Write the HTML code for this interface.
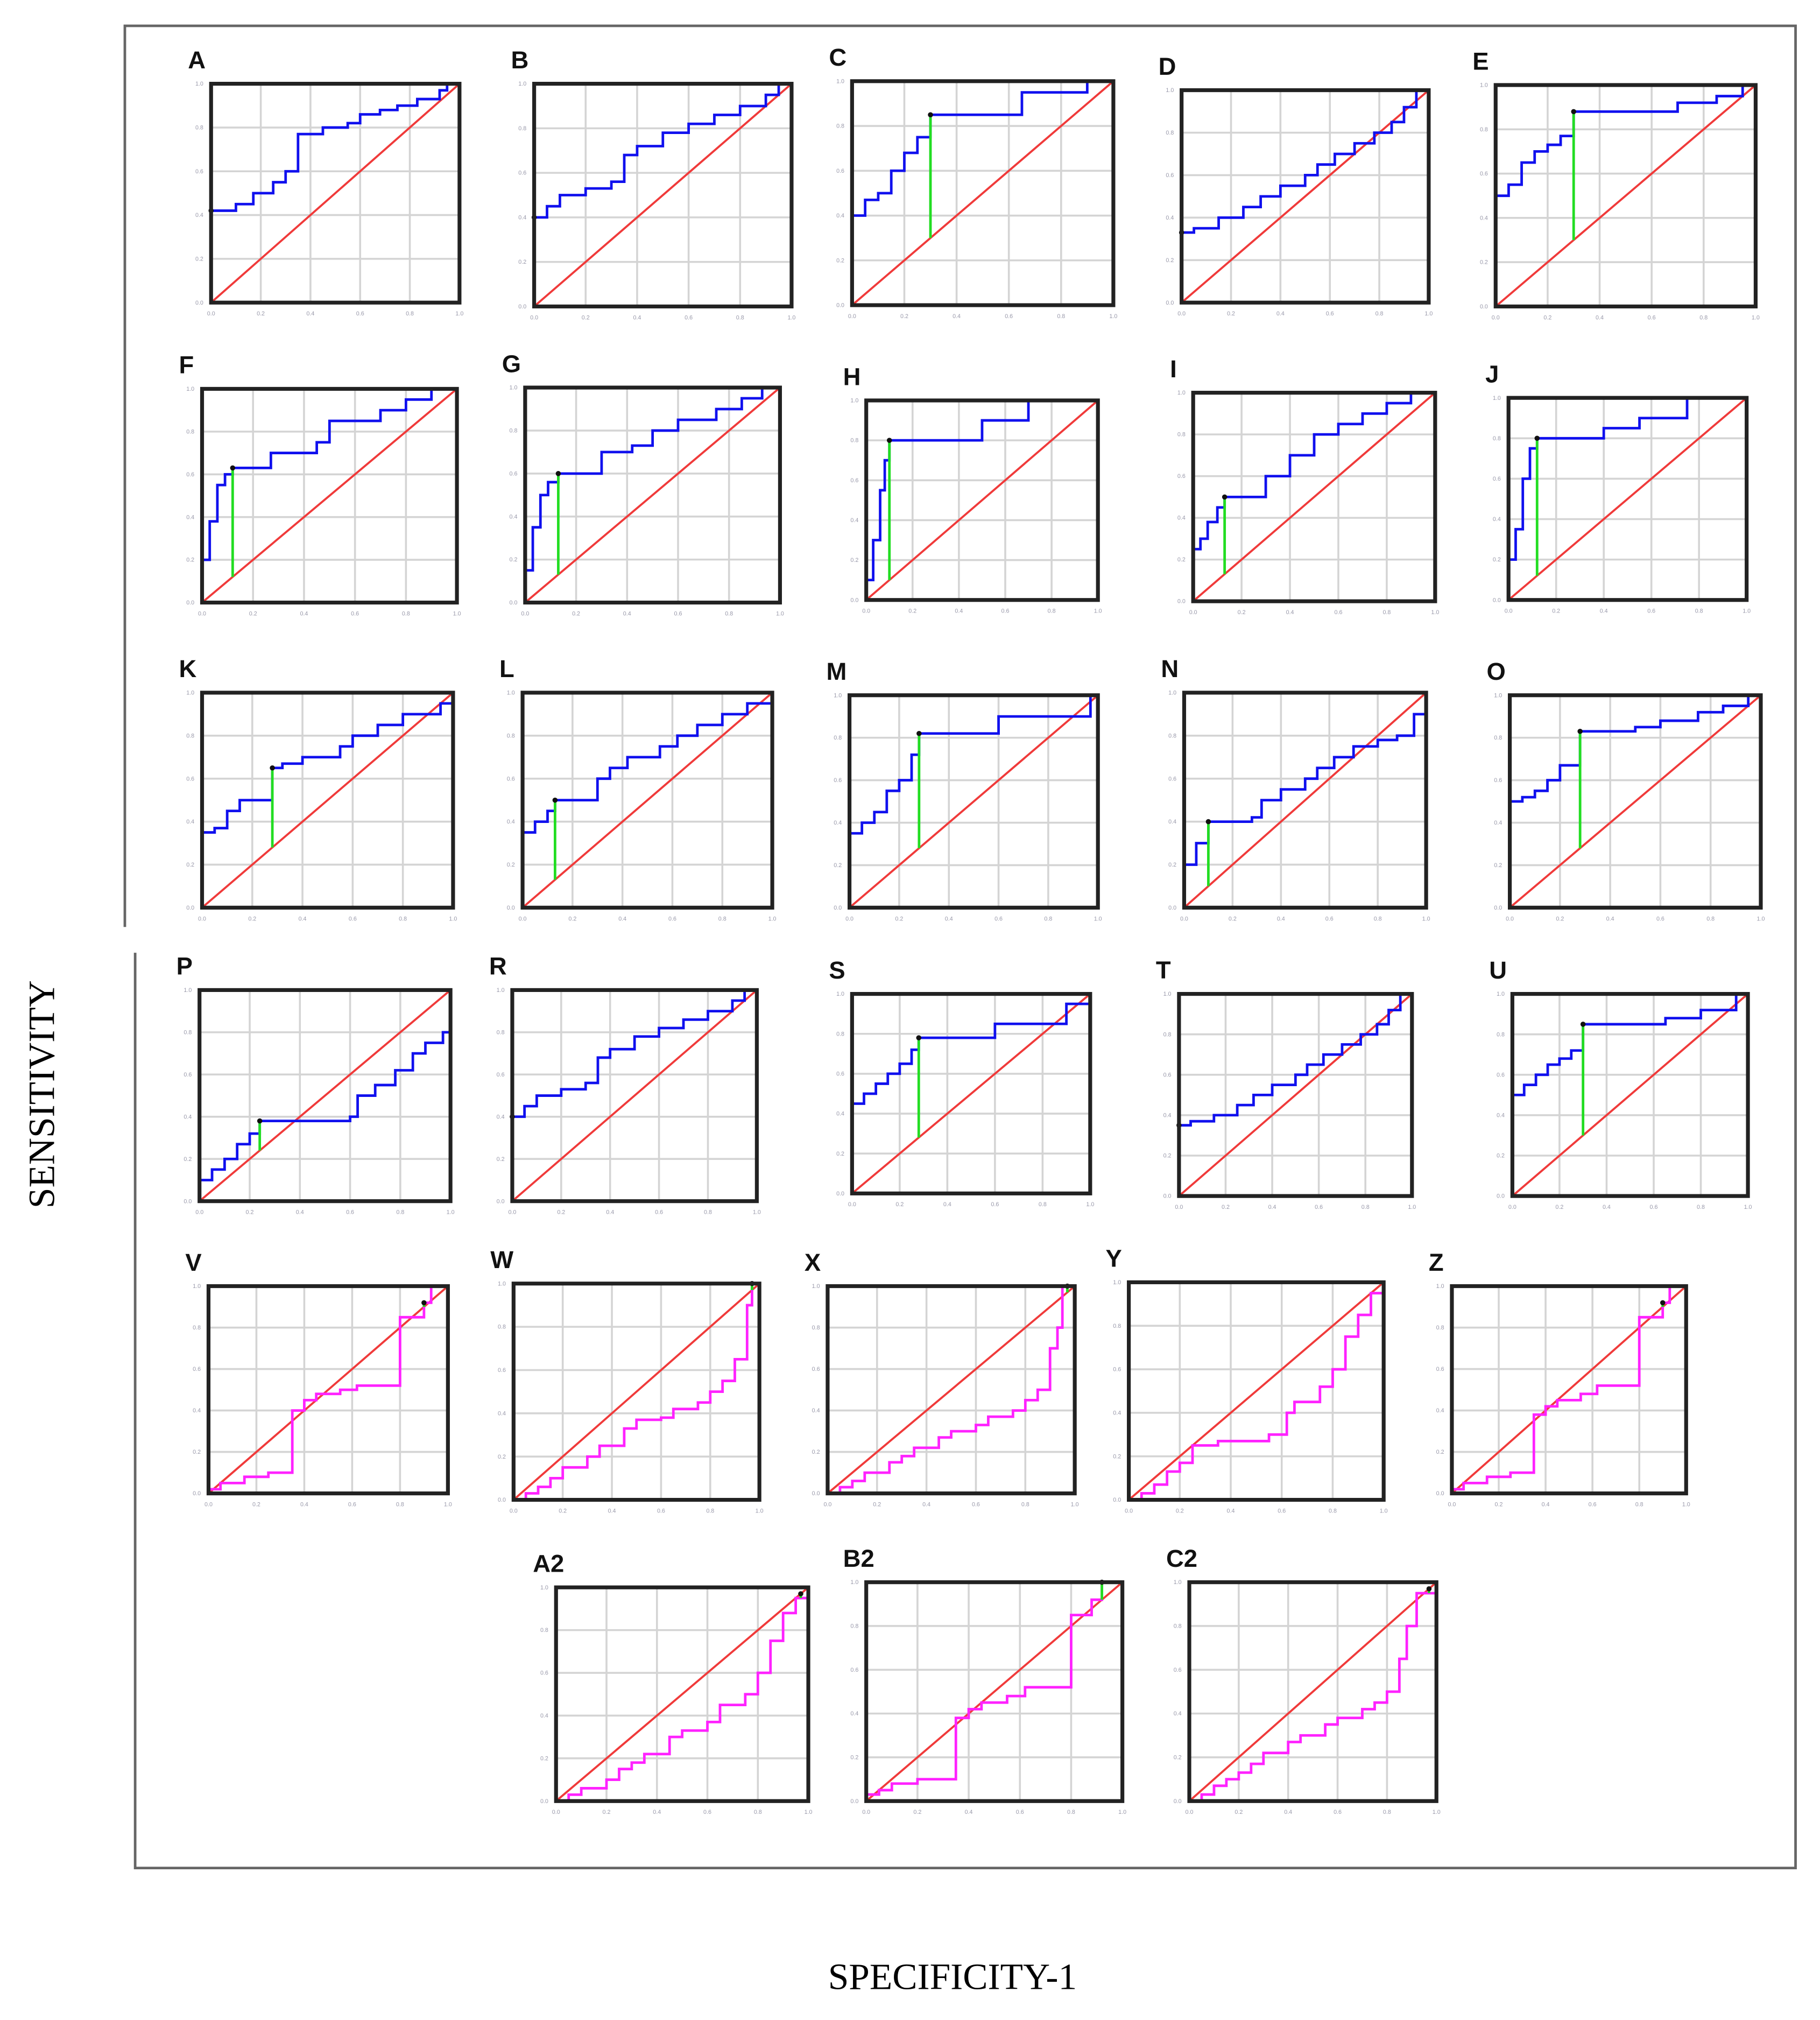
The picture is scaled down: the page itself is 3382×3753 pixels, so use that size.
<!DOCTYPE html>
<html><head><meta charset="utf-8"><style>
html,body{margin:0;padding:0;background:#fff}
svg{display:block}
</style></head><body>
<svg id="fig" width="3382" height="3753" viewBox="0 0 1414 1569" xmlns="http://www.w3.org/2000/svg">
<rect width="1414" height="1569" fill="#fff"/>
<g stroke="#666" stroke-width="2" fill="none">
<polyline points="97,720 97,20 1395,20 1395,1451 105,1451 105,740"/>
</g>
<text transform="translate(42,850) rotate(-90)" text-anchor="middle" font-family="Liberation Serif, serif" font-size="29" fill="#000">SENSITIVITY</text>
<text x="740" y="1545" text-anchor="middle" font-family="Liberation Serif, serif" font-size="29" fill="#000">SPECIFICITY-1</text>
<g id="panels"></g>
</svg>
<script>
// ---- data (FPR / TPR step points, cutoff FPR) ----
const panelLabels=["A","B","C","D","E","F","G","H","I","J","K","L","M","N","O","P","R","S","T","U","V","W","X","Y","Z","A2","B2","C2"];
const fpr_A=[0,0,0.1,0.17,0.25,0.3,0.35,0.45,0.55,0.6,0.68,0.75,0.83,0.92,0.95,1];
const tpr_A=[0,0.42,0.45,0.5,0.55,0.6,0.77,0.8,0.82,0.86,0.88,0.9,0.93,0.97,1,1];
const fpr_B=[0,0,0.05,0.1,0.2,0.3,0.35,0.4,0.5,0.6,0.7,0.8,0.9,0.95,1];
const tpr_B=[0,0.4,0.45,0.5,0.53,0.56,0.68,0.72,0.78,0.82,0.86,0.9,0.95,1,1];
const fpr_C=[0,0,0.05,0.1,0.15,0.2,0.25,0.3,0.65,0.9,1];
const tpr_C=[0,0.4,0.47,0.5,0.6,0.68,0.75,0.85,0.95,1,1];
const fpr_D=[0,0,0.05,0.15,0.25,0.32,0.4,0.5,0.55,0.62,0.7,0.78,0.85,0.9,0.95,1];
const tpr_D=[0,0.33,0.35,0.4,0.45,0.5,0.55,0.6,0.65,0.7,0.75,0.8,0.85,0.92,1,1];
const fpr_E=[0,0,0.05,0.1,0.15,0.2,0.25,0.3,0.7,0.85,0.95,1];
const tpr_E=[0,0.5,0.55,0.65,0.7,0.73,0.77,0.88,0.92,0.95,1,1];
const fpr_F=[0,0,0.03,0.06,0.09,0.12,0.27,0.45,0.5,0.7,0.8,0.9,1];
const tpr_F=[0,0.2,0.38,0.55,0.6,0.63,0.7,0.75,0.85,0.9,0.95,1,1];
const fpr_G=[0,0,0.03,0.06,0.09,0.13,0.3,0.42,0.5,0.6,0.75,0.85,0.93,1];
const tpr_G=[0,0.15,0.35,0.5,0.56,0.6,0.7,0.73,0.8,0.85,0.9,0.95,1,1];
const fpr_H=[0,0,0.03,0.06,0.08,0.1,0.5,0.7,1];
const tpr_H=[0,0.1,0.3,0.55,0.7,0.8,0.9,1,1];
const fpr_I=[0,0,0.03,0.06,0.1,0.13,0.3,0.4,0.5,0.6,0.7,0.8,0.9,1];
const tpr_I=[0,0.25,0.3,0.38,0.45,0.5,0.6,0.7,0.8,0.85,0.9,0.95,1,1];
const fpr_J=[0,0,0.03,0.06,0.09,0.12,0.4,0.55,0.75,1];
const tpr_J=[0,0.2,0.35,0.6,0.75,0.8,0.85,0.9,1,1];
const fpr_K=[0,0,0.05,0.1,0.15,0.28,0.32,0.4,0.55,0.6,0.7,0.8,0.95,1];
const tpr_K=[0,0.35,0.37,0.45,0.5,0.65,0.67,0.7,0.75,0.8,0.85,0.9,0.95,1];
const fpr_L=[0,0,0.05,0.1,0.13,0.3,0.35,0.42,0.55,0.62,0.7,0.8,0.9,1];
const tpr_L=[0,0.35,0.4,0.45,0.5,0.6,0.65,0.7,0.75,0.8,0.85,0.9,0.95,1];
const fpr_M=[0,0,0.05,0.1,0.15,0.2,0.25,0.28,0.6,0.97,1];
const tpr_M=[0,0.35,0.4,0.45,0.55,0.6,0.72,0.82,0.9,1,1];
const fpr_N=[0,0,0.05,0.1,0.28,0.32,0.4,0.5,0.55,0.62,0.7,0.8,0.88,0.95,1];
const tpr_N=[0,0.2,0.3,0.4,0.42,0.5,0.55,0.6,0.65,0.7,0.75,0.78,0.8,0.9,1];
const fpr_O=[0,0,0.05,0.1,0.15,0.2,0.28,0.5,0.6,0.75,0.85,0.95,1];
const tpr_O=[0,0.5,0.52,0.55,0.6,0.67,0.83,0.85,0.88,0.92,0.95,1,1];
const fpr_P=[0,0,0.05,0.1,0.15,0.2,0.24,0.6,0.63,0.7,0.78,0.85,0.9,0.97,1];
const tpr_P=[0,0.1,0.15,0.2,0.27,0.32,0.38,0.4,0.5,0.55,0.62,0.7,0.75,0.8,1];
const fpr_R=[0,0,0.05,0.1,0.2,0.3,0.35,0.4,0.5,0.6,0.7,0.8,0.9,0.95,1];
const tpr_R=[0,0.4,0.45,0.5,0.53,0.56,0.68,0.72,0.78,0.82,0.86,0.9,0.95,1,1];
const fpr_S=[0,0,0.05,0.1,0.15,0.2,0.25,0.28,0.6,0.9,1];
const tpr_S=[0,0.45,0.5,0.55,0.6,0.65,0.72,0.78,0.85,0.95,1];
const fpr_T=[0,0,0.05,0.15,0.25,0.32,0.4,0.5,0.55,0.62,0.7,0.78,0.85,0.9,0.95,1];
const tpr_T=[0,0.35,0.37,0.4,0.45,0.5,0.55,0.6,0.65,0.7,0.75,0.8,0.85,0.92,1,1];
const fpr_U=[0,0,0.05,0.1,0.15,0.2,0.25,0.3,0.65,0.8,0.95,1];
const tpr_U=[0,0.5,0.55,0.6,0.65,0.68,0.72,0.85,0.88,0.92,1,1];
const fpr_V=[0,0,0.05,0.15,0.25,0.35,0.4,0.45,0.55,0.62,0.8,0.9,0.93,1];
const tpr_V=[0,0.02,0.05,0.08,0.1,0.4,0.45,0.48,0.5,0.52,0.85,0.92,1,1];
const fpr_W=[0,0.05,0.1,0.15,0.2,0.3,0.35,0.45,0.5,0.6,0.65,0.75,0.8,0.85,0.9,0.95,0.97,1];
const tpr_W=[0,0.03,0.06,0.1,0.15,0.2,0.25,0.33,0.37,0.38,0.42,0.45,0.5,0.55,0.65,0.9,1,1];
const fpr_X=[0,0.05,0.1,0.15,0.25,0.3,0.35,0.45,0.5,0.6,0.65,0.75,0.8,0.85,0.9,0.93,0.95,1];
const tpr_X=[0,0.03,0.06,0.1,0.15,0.18,0.22,0.27,0.3,0.33,0.37,0.4,0.45,0.5,0.7,0.8,1,1];
const fpr_Y=[0,0.05,0.1,0.15,0.2,0.25,0.35,0.55,0.62,0.65,0.75,0.8,0.85,0.9,0.95,1];
const tpr_Y=[0,0.03,0.07,0.13,0.17,0.25,0.27,0.3,0.4,0.45,0.52,0.6,0.75,0.85,0.95,1];
const fpr_Z=[0,0,0.05,0.15,0.25,0.35,0.4,0.45,0.55,0.62,0.8,0.9,0.93,1];
const tpr_Z=[0,0.02,0.05,0.08,0.1,0.38,0.42,0.45,0.48,0.52,0.85,0.92,1,1];
const fpr_A2=[0,0.05,0.1,0.2,0.25,0.3,0.35,0.45,0.5,0.6,0.65,0.75,0.8,0.85,0.9,0.95,1];
const tpr_A2=[0,0.03,0.06,0.1,0.15,0.18,0.22,0.3,0.33,0.37,0.45,0.5,0.6,0.75,0.88,0.95,1];
const fpr_B2=[0,0,0.05,0.1,0.2,0.35,0.4,0.45,0.55,0.62,0.8,0.88,0.92,1];
const tpr_B2=[0,0.03,0.05,0.08,0.1,0.38,0.42,0.45,0.48,0.52,0.85,0.92,1,1];
const fpr_C2=[0,0.05,0.1,0.15,0.2,0.25,0.3,0.4,0.45,0.55,0.6,0.7,0.75,0.8,0.85,0.88,0.92,1];
const tpr_C2=[0,0.03,0.07,0.1,0.13,0.17,0.22,0.27,0.3,0.35,0.38,0.42,0.45,0.5,0.65,0.8,0.95,1];
const cutoffs=[0,0,0.3,0,0.3, 0.12,0.13,0.1,0.13,0.12, 0.28,0.13,0.28,0.1,0.28, 0.24,0,0.28,0,0.3, 0.9,0.97,0.97,null,0.9, 0.97,0.92,0.97];
const tickLabels=["0.0","0.2","0.4","0.6","0.8","1.0"];
// ---- layout (not data) ----
const frames=[[164,65,357,235],[415,65,615,238],[662,63,865,237],[918,70,1110,235],[1162,66,1364,238],
[157,302,355,468],[408,301,606,468],[673,311,853,466],[927,305,1115,467],[1172,309,1357,466],
[157,538,352,705],[406,538,600,705],[660,540,853,705],[920,538,1108,705],[1173,540,1368,705],
[155,769,350,933],[398,769,588,933],[662,772,847,927],[916,772,1097,929],[1175,772,1358,929],
[162,999,348,1160],[399,997,590,1165],[643,999,835,1160],[877,996,1075,1165],[1128,999,1310,1160],
[432,1233,628,1399],[673,1229,872,1399],[924,1229,1116,1399]];
const NS="http://www.w3.org/2000/svg";
const root=document.getElementById("panels");
function mk(tag,attrs,parent){const e=document.createElementNS(NS,tag);for(const k in attrs)e.setAttribute(k,attrs[k]);parent.appendChild(e);return e;}
function interp(fx,ty,x){for(let i=fx.length-1;i>=0;i--){if(fx[i]<=x)return ty[i];}return 0;}
panelLabels.forEach((lab,i)=>{
  const [x1,y1,x2,y2]=frames[i];
  const sx=v=>x1+v*(x2-x1), sy=v=>y2-v*(y2-y1);
  const fx=eval("fpr_"+lab), ty=eval("tpr_"+lab);
  const magenta=i>=20;
  const g=mk("g",{},root);
  
  
  const t=mk("text",{x:x1-18,y:y1-12,"font-family":"Liberation Sans, sans-serif","font-size":"19","font-weight":"bold",fill:"#111"},g);
  t.textContent=lab;
  
  
  for(let k=1;k<5;k++){
    const gx=mk("line",{x1:sx(k/5),x2:sx(k/5),y1:y1,y2:y2,stroke:"#d4d4d4","stroke-width":"1.5"},g);
    
    
    const gy=mk("line",{x1:x1,x2:x2,y1:sy(k/5),y2:sy(k/5),stroke:"#d4d4d4","stroke-width":"1.5"},g);
    
    
  }
  tickLabels.forEach((tl,k)=>{
    const a=mk("text",{x:sx(k/5),y:y2+10,"text-anchor":"middle","font-family":"Liberation Sans, sans-serif","font-size":"4.5",fill:"#99a"},g);
    a.textContent=tl;
    
    
    const b=mk("text",{x:x1-6,y:sy(k/5)+1.5,"text-anchor":"end","font-family":"Liberation Sans, sans-serif","font-size":"4.5",fill:"#99a"},g);
    b.textContent=tl;
    
    
  });
  const d=mk("line",{x1:sx(0),y1:sy(0),x2:sx(1),y2:sy(1),stroke:"#f03a3a","stroke-width":"1.6"},g);
  
  
  let pts=[];
  for(let j=0;j<fx.length;j++){
    if(j>0)pts.push(sx(fx[j])+","+sy(ty[j-1]));
    pts.push(sx(fx[j])+","+sy(ty[j]));
  }
  const c=mk("polyline",{points:pts.join(" "),fill:"none",stroke:magenta?"#ff22ff":"#1010ee","stroke-width":"2"},g);
  
  
  const cx=cutoffs[i];
  if(cx!==null){
    const cy=interp(fx,ty,cx);
    const gl=mk("line",{x1:sx(cx),x2:sx(cx),y1:sy(Math.min(cx,cy)),y2:sy(Math.max(cx,cy)),stroke:"#22dd22","stroke-width":"2"},g);
    
    
    const dot=mk("circle",{cx:sx(cx),cy:sy(Math.max(cx,cy)),r:"2",fill:"#111"},g);
    
    
  }
  const fr=mk("rect",{x:x1,y:y1,width:x2-x1,height:y2-y1,fill:"none",stroke:"#222","stroke-width":"3"},g);
  
  
});
</script>
</body></html>
